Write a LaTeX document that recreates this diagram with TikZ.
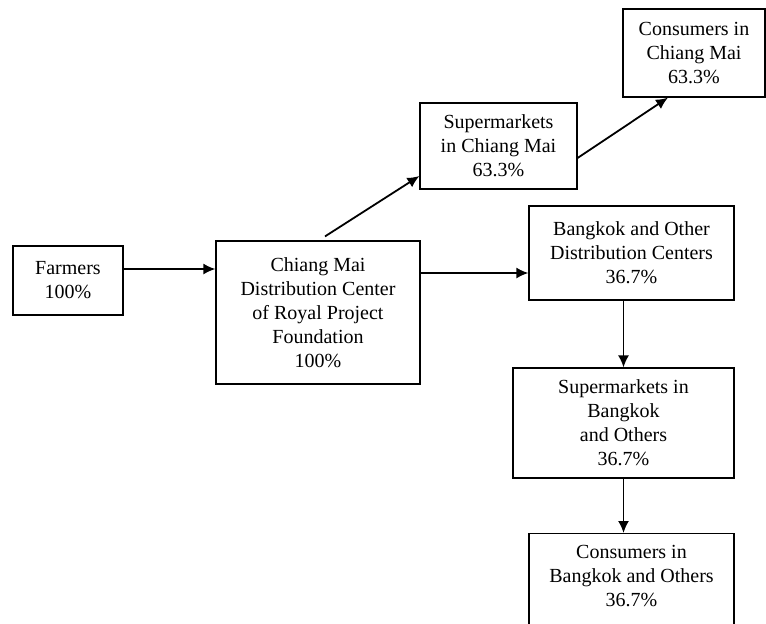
\documentclass[tikz,border=0pt]{standalone}
\usepackage{fontspec}
\setmainfont{Liberation Serif}
\usetikzlibrary{arrows.meta}

\begin{document}
\begin{tikzpicture}[
        x=0.5pt, y=-0.5pt, % 1 единица = 1 пиксель
        font=\fontsize{10}{12}\selectfont,
        cell/.style = {draw, line width=0.6pt, align=center, inner sep=0pt}, % Стиль узлов
        flow/.style = {draw, line width=0.9pt, -{Latex[length=6pt,width=5.5pt]}}, % Стиль стрелок
    ]
    \useasboundingbox (0,0) rectangle (766,623);

    \node[cell, minimum width=55pt, minimum height=34.5pt] (farmers) at (68,280.5) {Farmers\\100\%};
    \node[cell, minimum width=102pt, minimum height=71.5pt] (cm) at (318,312.5)
        {Chiang Mai\\Distribution Center\\of Royal Project\\Foundation\\100\%};
    \node[cell, minimum width=78.5pt, minimum height=43pt] (scm) at (498.5,146)
        {Supermarkets\\in Chiang Mai\\63.3\%};
    \node[cell, minimum width=71pt, minimum height=44pt] (ccm) at (694,53)
        {Consumers in\\Chiang Mai\\63.3\%};
    \node[cell, minimum width=102.5pt, minimum height=47pt] (bk) at (631.5,253)
        {Bangkok and Other\\Distribution Centers\\36.7\%};
    \node[cell, minimum width=110.5pt, minimum height=55pt] (sbk) at (623.5,423)
        {Supermarkets in\\Bangkok\\and Others\\36.7\%};
    \node[cell, minimum width=102.5pt, anchor=north, inner ysep=6pt, text depth=25pt] (cbk) at (631.5,533)
        {Consumers in\\Bangkok and Others\\36.7\%}; % нижний край за рамкой

    % Стрелки
    \coordinate (f1) at ([yshift=5.75pt]farmers.east);
    \draw[flow] (f1) -- (f1 -| cm.west);
    \coordinate (c1) at ([yshift=19.75pt]cm.east);
    \draw[flow] (c1) -- (c1 -| bk.west);
    \draw[flow] ([xshift=3.5pt,yshift=2pt]cm.north) -- ([yshift=-15pt]scm.west);
    \draw[flow] ([yshift=-6pt]scm.east) -- ([xshift=-13pt]ccm.south);
    \draw[flow] (sbk.north |- bk.south) -- (sbk.north);
    \draw[flow] (sbk.south) -- (sbk.south |- cbk.north);
\end{tikzpicture}
\end{document}
